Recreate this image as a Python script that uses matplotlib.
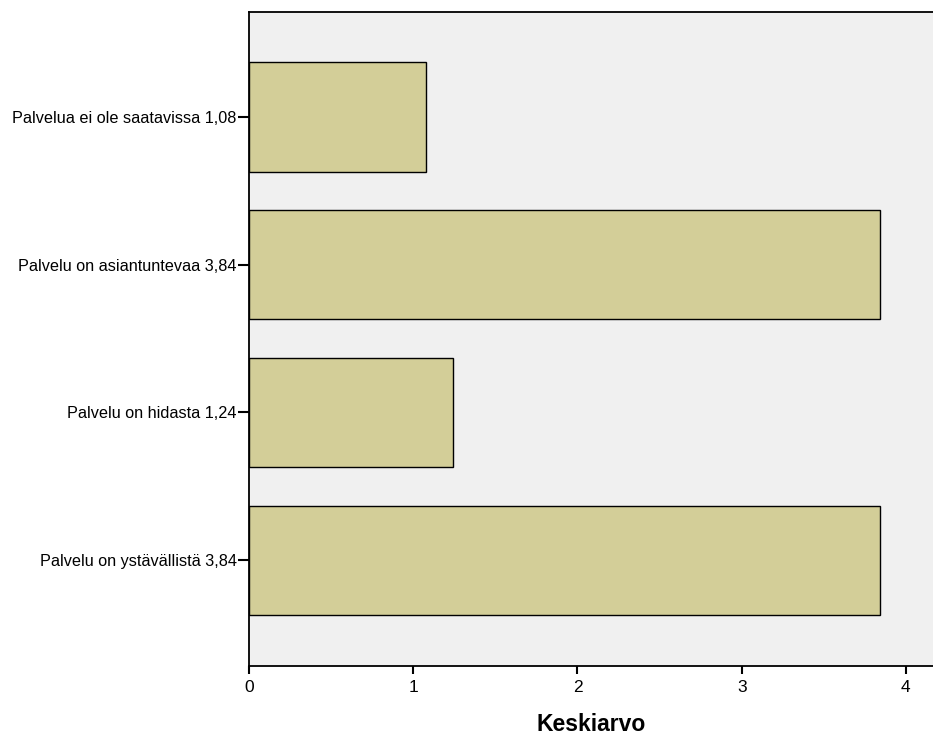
import matplotlib
matplotlib.use("Agg")
import matplotlib.pyplot as plt

categories = ["Palvelu on ystävällistä 3,84", "Palvelu on hidasta 1,24",
              "Palvelu on asiantuntevaa 3,84", "Palvelua ei ole saatavissa 1,08"]
values = [3.84, 1.24, 3.84, 1.08]
xticks = [0, 1, 2, 3, 4]

plt.rcParams['font.family'] = ['Liberation Sans', 'DejaVu Sans']

fig = plt.figure(figsize=(9.33, 7.35), dpi=100)
ax = fig.add_axes([249/933, 1 - 666/735, 1 - 249/933, (666 - 12)/735])
ax.set_facecolor('#f0f0f0')
pos = list(range(len(categories)))
ax.barh(pos, values, height=0.74, color='#d3ce98', edgecolor='black', linewidth=1.0, zorder=2)
ax.set_yticks(pos)
ax.set_yticklabels(categories, fontsize=11.7)
ax.set_xticks(xticks)
ax.set_xticklabels([str(t) for t in xticks], fontsize=12.5)
ax.set_xlim(0, 4.165)
ax.set_ylim(-0.716, 3.71)
ax.set_xlabel("Keskiarvo", fontsize=16.5, fontweight='bold', labelpad=13)
for s in ['right']:
    ax.spines[s].set_visible(False)
for s in ['left', 'bottom', 'top']:
    ax.spines[s].set_linewidth(1.3)
ax.tick_params(axis='y', length=8, width=1.5, pad=1)
ax.tick_params(axis='x', length=6, width=1.5, pad=4)
fig.savefig("out.png", dpi=100)
